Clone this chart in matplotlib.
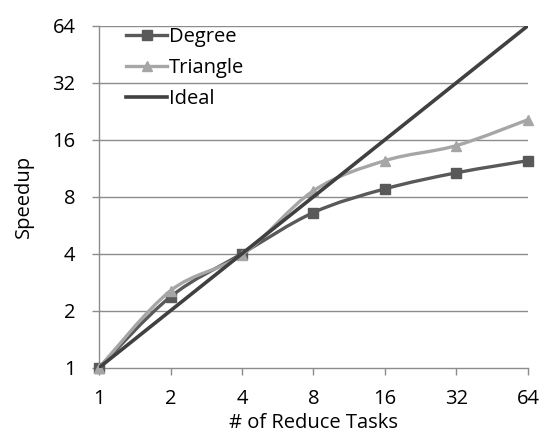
import numpy as np
import matplotlib
matplotlib.use("Agg")
import matplotlib.pyplot as plt
from matplotlib.path import Path
from matplotlib.patches import PathPatch
from matplotlib.ticker import FixedLocator, FixedFormatter, NullLocator

plt.rcParams['font.family'] = ['Open Sans', 'DejaVu Sans']

# ---------------- data ----------------
tasks    = [1, 2, 4, 8, 16, 32, 64]
degree   = [1.0, 2.37, 4.0, 6.6, 8.8, 10.7, 12.4]
triangle = [1.0, 2.55, 3.94, 8.6, 12.4, 14.9, 20.4]
ideal    = [1, 2, 4, 8, 16, 32, 64]
ticks    = [1, 2, 4, 8, 16, 32, 64]


def smooth_path(xs, ys):
    """Excel-style smoothed line: cubic Beziers computed in log2 display space."""
    lx = np.log2(xs); ly = np.log2(ys)
    P = np.column_stack([lx, ly])
    n = len(P)
    verts = [P[0]]; codes = [Path.MOVETO]
    for i in range(n - 1):
        p0 = P[i - 1] if i > 0 else P[i]
        p1, p2 = P[i], P[i + 1]
        p3 = P[i + 2] if i + 2 < n else P[i + 1]
        c1 = p1 + (p2 - p0) / 6.0
        c2 = p2 - (p3 - p1) / 6.0
        verts += [c1, c2, p2]
        codes += [Path.CURVE4] * 3
    verts = 2.0 ** np.array(verts)
    return Path(verts, codes)


FS = 14.5
fig = plt.figure(figsize=(5.42, 4.38), dpi=100)
ax = fig.add_axes([0.1827, 0.1605, 0.7913, 0.7808])
ax.set_xscale('log', base=2)
ax.set_yscale('log', base=2)
ax.set_xlim(1, 64); ax.set_ylim(1, 64)

for y in ticks[1:]:
    ax.axhline(y, color='#8c8c8c', lw=1.0, zorder=0)

series = [
    (degree,   '#595959', 's', 'Degree',   2.4),
    (triangle, '#a6a6a6', '^', 'Triangle', 2.4),
    (ideal,    '#404040', None, 'Ideal',   2.6),
]
for k, (vals, col, mk, lab, lw) in enumerate(series):
    z = 3 + 2 * k
    ax.add_patch(PathPatch(smooth_path(tasks, vals), fc='none', ec=col, lw=lw,
                           capstyle='round', joinstyle='round', zorder=z))
    if mk:
        ax.plot(tasks, vals, ls='none', marker=mk, color=col, ms=6.5, zorder=z + 1,
                clip_on=False)
    ax.plot([], [], color=col, lw=lw, marker=mk, ms=6.5, label=lab)

ax.xaxis.set_major_locator(FixedLocator(ticks))
ax.xaxis.set_major_formatter(FixedFormatter([str(t) for t in ticks]))
ax.yaxis.set_major_locator(FixedLocator(ticks))
ax.yaxis.set_major_formatter(FixedFormatter([str(t) for t in ticks]))
ax.xaxis.set_minor_locator(NullLocator())
ax.yaxis.set_minor_locator(NullLocator())

for s in ['top', 'right']:
    ax.spines[s].set_visible(False)
for s in ['left', 'bottom']:
    ax.spines[s].set_color('#8c8c8c')
    ax.spines[s].set_linewidth(1.0)
ax.tick_params(axis='both', direction='out', length=5, width=1.0, color='#8c8c8c',
               labelsize=FS, pad=12, labelcolor='black')
ax.tick_params(axis='x', pad=10)

ax.set_xlabel('# of Reduce Tasks', fontsize=FS, labelpad=3)
ax.set_ylabel('Speedup', fontsize=FS, labelpad=13)

ax.legend(loc='upper left', bbox_to_anchor=(0.045, 1.02), frameon=False, fontsize=FS,
          handlelength=2.0, handletextpad=0.1, labelspacing=0.55, borderaxespad=0)

fig.savefig('out.png', dpi=100)
